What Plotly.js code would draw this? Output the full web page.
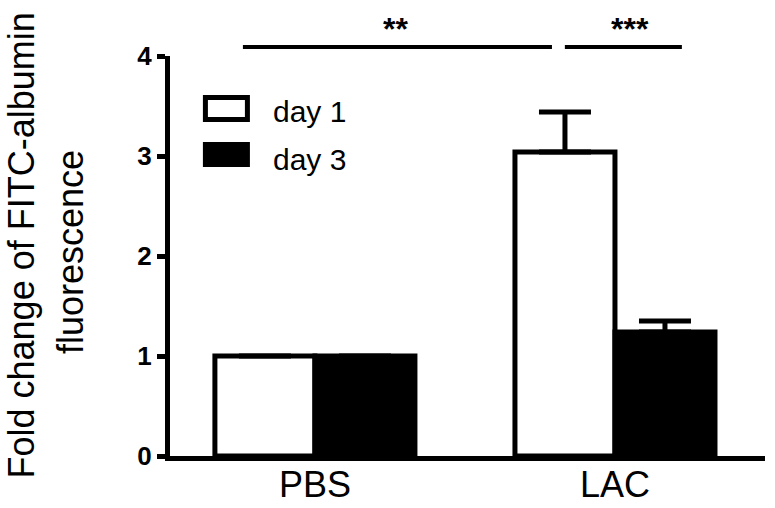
<!DOCTYPE html>
<html>
<head>
<meta charset="utf-8">
<script src="https://cdn.plot.ly/plotly-3.0.1.min.js"></script>
<style>html,body{margin:0;padding:0;background:#fff;}</style>
</head>
<body>
<div id="chart" style="width:775px;height:508px;"></div>
<script>
// Data
const categories = ["PBS", "LAC"];
const seriesNames = ["day 1", "day 3"];
const day1Values = [1.0, 3.04];
const day1Errors = [0, 0.40];
const day3Values = [1.0, 1.24];
const day3Errors = [0, 0.11];
const yTicks = [0, 1, 2, 3, 4];
const sigLabels = ["**", "***"];

const FONT = "Liberation Sans, Arial, sans-serif";

const traces = [
  {
    type: "bar", name: seriesNames[0], x: categories, y: day1Values,
    marker: {color: "#ffffff", line: {color: "#000000", width: 5}},
    error_y: {type: "data", symmetric: false, array: day1Errors, arrayminus: [0, 0],
              color: "#000000", thickness: 5, width: 26, visible: true},
    showlegend: false
  },
  {
    type: "bar", name: seriesNames[1], x: categories, y: day3Values,
    marker: {color: "#000000", line: {color: "#000000", width: 5}},
    error_y: {type: "data", symmetric: false, array: day3Errors, arrayminus: [0, 0],
              color: "#000000", thickness: 5, width: 26, visible: true},
    showlegend: false
  }
];

const layout = {
  width: 775, height: 508,
  margin: {l: 170, r: 10, t: 56, b: 52, pad: 0},
  paper_bgcolor: "#ffffff", plot_bgcolor: "#ffffff",
  barmode: "group", bargap: 1/3, bargroupgap: 0,
  font: {family: FONT, color: "#000000"},
  xaxis: {
    type: "category", range: [-0.483, 1.5],
    showline: true, linecolor: "#000000", linewidth: 5,
    ticks: "", showgrid: false, zeroline: false,
    ticklabelstandoff: -7,
    tickfont: {family: FONT, size: 36, color: "#000000"},
    fixedrange: true
  },
  yaxis: {
    range: [0, 4], tickvals: yTicks, ticktext: yTicks.map(String),
    showline: true, linecolor: "#000000", linewidth: 5,
    ticks: "outside", ticklen: 8, tickwidth: 5, tickcolor: "#000000",
    showgrid: false, zeroline: false,
    tickfont: {family: FONT, size: 26, color: "#000000", weight: "bold"},
    fixedrange: true
  },
  shapes: [
    // significance lines
    {type: "line", xref: "x", yref: "paper", x0: -0.24, x1: 0.79, y0: 1.0225, y1: 1.0225,
     line: {color: "#000000", width: 4}},
    {type: "line", xref: "x", yref: "paper", x0: 0.833, x1: 1.223, y0: 1.0225, y1: 1.0225,
     line: {color: "#000000", width: 4}},
    // legend boxes
    {type: "rect", xref: "x", yref: "y", x0: -0.365, x1: -0.225, y0: 3.365, y1: 3.585,
     fillcolor: "#ffffff", line: {color: "#000000", width: 5}},
    {type: "rect", xref: "x", yref: "y", x0: -0.365, x1: -0.225, y0: 2.915, y1: 3.115,
     fillcolor: "#000000", line: {color: "#000000", width: 5}}
  ],
  annotations: [
    {text: sigLabels[0], xref: "x", yref: "paper", x: 0.267, y: 1.068, yanchor: "middle",
     showarrow: false, font: {family: FONT, size: 32, weight: "bold", color: "#000000"}},
    {text: sigLabels[1], xref: "x", yref: "paper", x: 1.05, y: 1.068, yanchor: "middle",
     showarrow: false, font: {family: FONT, size: 32, weight: "bold", color: "#000000"}},
    {text: seriesNames[0], xref: "x", yref: "y", x: -0.147, y: 3.445, xanchor: "left", yanchor: "middle",
     showarrow: false, font: {family: FONT, size: 30, color: "#000000"}},
    {text: seriesNames[1], xref: "x", yref: "y", x: -0.147, y: 2.965, xanchor: "left", yanchor: "middle",
     showarrow: false, font: {family: FONT, size: 30, color: "#000000"}},
    {text: "Fold change of FITC-albumin", xref: "paper", yref: "paper", x: -0.2496, y: 0.5275,
     textangle: -90, showarrow: false, xanchor: "center", yanchor: "middle",
     font: {family: FONT, size: 36, color: "#000000"}},
    {text: "fluorescence", xref: "paper", yref: "paper", x: -0.168, y: 0.51,
     textangle: -90, showarrow: false, xanchor: "center", yanchor: "middle",
     font: {family: FONT, size: 36, color: "#000000"}}
  ]
};

Plotly.newPlot("chart", traces, layout, {displayModeBar: false, staticPlot: true});
</script>
</body>
</html>
